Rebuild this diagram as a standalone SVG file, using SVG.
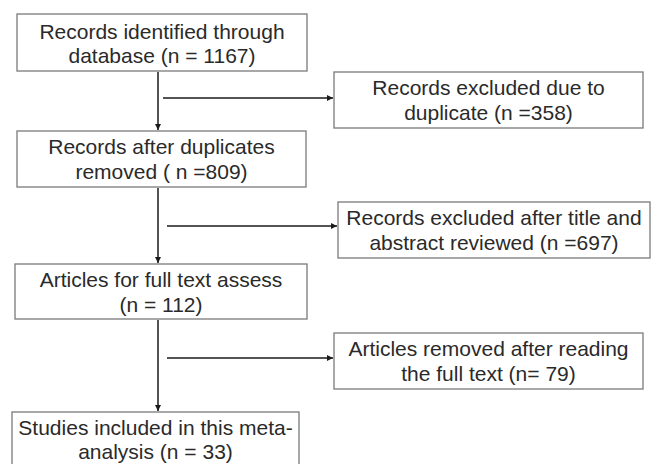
<svg xmlns="http://www.w3.org/2000/svg" width="653" height="464" viewBox="0 0 653 464">
<style>
.box{fill:#fff;stroke:#7a7a7a;stroke-width:1.3}
.t{font-family:"Liberation Sans",Arial,sans-serif;font-size:21px;fill:#2a2a2a;text-anchor:middle}
.c{stroke:#1a1a1a;stroke-width:1.5;fill:none;marker-end:url(#ah)}
</style>
<defs>
<marker id="ah" viewBox="0 0 10 10" refX="10" refY="5" markerWidth="6" markerHeight="6" markerUnits="userSpaceOnUse" orient="auto">
<path d="M0,0 L10,5 L0,10 z" fill="#1a1a1a"/>
</marker>
</defs>
<rect width="653" height="464" fill="#fff"/>
<g id="connectors">
<line class="c" x1="158" y1="72" x2="158" y2="130"/>
<line class="c" x1="163" y1="98" x2="333" y2="98"/>
<line class="c" x1="158" y1="188" x2="158" y2="263"/>
<line class="c" x1="167" y1="226" x2="337" y2="226"/>
<line class="c" x1="158" y1="320" x2="158" y2="411"/>
<line class="c" x1="167" y1="358" x2="333" y2="358"/>
</g>
<g id="n1">
<rect class="box" x="17" y="14" width="290" height="57"/>
<text class="t" x="162" y="38.5">Records identified through</text>
<text class="t" x="162" y="63">database (n = 1167)</text>
</g>
<g id="n2">
<rect class="box" x="334" y="72" width="309" height="56"/>
<text class="t" x="488.5" y="95">Records excluded due to</text>
<text class="t" x="488.5" y="120">duplicate (n =358)</text>
</g>
<g id="n3">
<rect class="box" x="17" y="131" width="289" height="56"/>
<text class="t" x="161.5" y="154">Records after duplicates</text>
<text class="t" x="161.5" y="179">removed ( n =809)</text>
</g>
<g id="n4">
<rect class="box" x="338" y="202" width="312" height="56"/>
<text class="t" x="494" y="225">Records excluded after title and</text>
<text class="t" x="494" y="250">abstract reviewed (n =697)</text>
</g>
<g id="n5">
<rect class="box" x="15" y="264" width="292" height="55"/>
<text class="t" x="161" y="287">Articles for full text assess</text>
<text class="t" x="161" y="311.5">(n = 112)</text>
</g>
<g id="n6">
<rect class="box" x="334" y="333" width="309" height="56"/>
<text class="t" x="488.5" y="356">Articles removed after reading</text>
<text class="t" x="488.5" y="381">the full text (n= 79)</text>
</g>
<g id="n7">
<rect class="box" x="12" y="412" width="287" height="60"/>
<text class="t" x="155.5" y="435">Studies included in this meta-</text>
<text class="t" x="155.5" y="459">analysis (n = 33)</text>
</g>
</svg>
